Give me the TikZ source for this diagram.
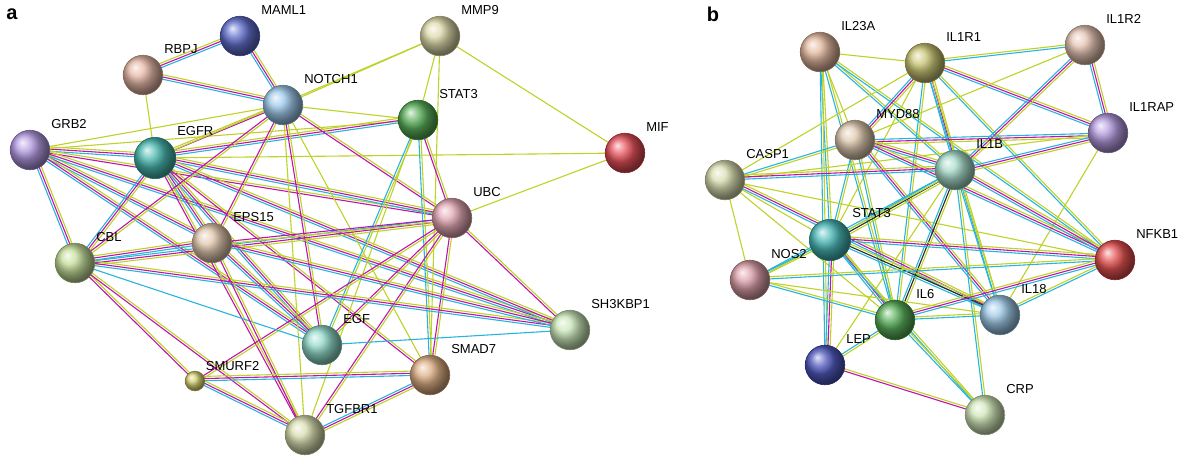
\documentclass[tikz,border=0pt]{standalone}
\usepackage{fontspec}
\setmainfont{Liberation Sans}
\usetikzlibrary{calc,backgrounds}
\definecolor{cc}{RGB}{40,180,220}
\definecolor{mm}{RGB}{190,20,170}
\definecolor{yy}{RGB}{190,210,40}
\definecolor{kk}{RGB}{40,40,40}
\tikzset{
 lab/.style={font=\fontsize{6.5}{7}\selectfont,anchor=south west,inner sep=0pt},
}
\newcommand\bl[6]{% name, x, y, r, RGB, label
 \definecolor{col#1}{RGB}{#5}
 \node[circle,minimum size=#4*0.9,inner sep=0pt,ball color=col#1!85!white,draw=col#1!60!black,line width=0.3pt] (#1) at (#2,#3) {};
 \node[lab] (l#1) at ($(#1)+(0.95*#4,-0.95*#4)$) {#6};}
\newcommand\ed[3]{%
 \foreach \c [count=\i] in {#3}{%
  \pgfmathsetmacro\off{(\i-1)*1.1}
  \draw[\c,line width=0.55pt] ($(#1)!\off pt!90:(#2)$) -- ($(#2)!\off pt!-90:(#1)$);}}
\begin{document}
\begin{tikzpicture}[x=0.5pt,y=-0.5pt]
\useasboundingbox (0,0) rectangle (1200,463);
\node[font=\bfseries\fontsize{10}{12}\selectfont] at (12,14) {a};
\node[font=\bfseries\fontsize{10}{12}\selectfont] at (713,14) {b};
% panel a
\bl{MAML1}{240}{36}{22}{70,85,195}{MAML1}
\bl{RBPJ}{143}{75}{22}{225,170,150}{RBPJ}
\bl{MMP9}{440}{36}{22}{215,210,155}{MMP9}
\bl{NOTCH1}{283}{105}{22}{140,190,230}{NOTCH1}
\bl{STATa}{418}{120}{22}{60,160,60}{STAT3}
\bl{MIF}{625}{153}{22}{225,50,60}{MIF}
\bl{GRB2}{30}{150}{22}{165,135,220}{GRB2}
\bl{EGFR}{155}{158}{23}{40,170,160}{EGFR}
\bl{UBC}{452}{218}{22}{220,150,165}{UBC}
\bl{CBL}{75}{263}{22}{185,215,135}{CBL}
\bl{EPS15}{212}{243}{22}{220,190,160}{EPS15}
\bl{SH3KBP1}{570}{330}{22}{190,225,170}{SH3KBP1}
\bl{EGF}{322}{345}{22}{125,210,190}{EGF}
\bl{SMURF2}{195}{381}{11}{205,200,90}{SMURF2}
\bl{SMAD7}{430}{375}{22}{215,160,110}{SMAD7}
\bl{TGFBR1}{305}{435}{22}{210,215,160}{TGFBR1}
% panel b
\bl{IL23A}{820}{52}{22}{220,170,140}{IL23A}
\bl{IL1R1}{925}{63}{22}{190,185,90}{IL1R1}
\bl{IL1R2}{1085}{45}{22}{225,185,165}{IL1R2}
\bl{IL1RAP}{1108}{133}{22}{165,135,215}{IL1RAP}
\bl{MYD88}{855}{140}{22}{215,190,160}{MYD88}
\bl{CASP1}{725}{180}{22}{210,215,160}{CASP1}
\bl{IL1B}{955}{170}{22}{150,210,190}{IL1B}
\bl{STATb}{830}{240}{23}{40,170,170}{STAT3}
\bl{NFKB1}{1115}{260}{22}{225,50,50}{NFKB1}
\bl{NOS2}{750}{280}{22}{210,140,150}{NOS2}
\bl{IL6}{895}{320}{22}{60,160,60}{IL6}
\bl{IL18}{1000}{315}{22}{140,190,225}{IL18}
\bl{LEP}{825}{365}{22}{50,60,180}{LEP}
\bl{CRP}{985}{415}{22}{200,225,170}{CRP}
\begin{scope}[on background layer]
% a edges
\ed{GRB2}{EGFR}{cc,mm,yy}\ed{GRB2}{CBL}{cc,mm,yy}\ed{GRB2}{EPS15}{cc,mm,yy}
\ed{GRB2}{UBC}{mm,yy}\ed{GRB2}{NOTCH1}{yy}\ed{GRB2}{STATa}{yy}
\ed{GRB2}{EGF}{cc,mm,yy}\ed{GRB2}{SH3KBP1}{cc,mm,yy}
\ed{EGFR}{NOTCH1}{mm,yy}\ed{EGFR}{STATa}{cc,mm,yy}\ed{EGFR}{UBC}{cc,mm,yy}
\ed{EGFR}{CBL}{cc,mm,yy}\ed{EGFR}{EPS15}{cc,mm,yy}\ed{EGFR}{EGF}{cc,mm,yy}
\ed{EGFR}{SH3KBP1}{cc,mm,yy}\ed{EGFR}{SMAD7}{mm,yy}\ed{EGFR}{TGFBR1}{mm,yy}
\ed{EGFR}{MIF}{yy}\ed{EGFR}{MMP9}{yy}\ed{EGFR}{RBPJ}{yy}
\ed{RBPJ}{NOTCH1}{cc,mm,yy}\ed{RBPJ}{MAML1}{cc,mm,yy}\ed{MAML1}{NOTCH1}{cc,mm,yy}
\ed{NOTCH1}{STATa}{yy}\ed{NOTCH1}{MMP9}{yy}\ed{NOTCH1}{UBC}{mm,yy}
\ed{NOTCH1}{EPS15}{mm,yy}\ed{NOTCH1}{CBL}{mm,yy}\ed{NOTCH1}{EGF}{mm,yy}
\ed{NOTCH1}{TGFBR1}{yy}\ed{NOTCH1}{SMAD7}{yy}
\ed{MMP9}{STATa}{yy}\ed{MMP9}{MIF}{yy}\ed{MMP9}{SMAD7}{yy}
\ed{STATa}{UBC}{mm,yy}\ed{STATa}{EGF}{cc,yy}\ed{STATa}{SMAD7}{cc,yy}
\ed{STATa}{TGFBR1}{yy}
\ed{UBC}{MIF}{yy}\ed{UBC}{CBL}{cc,mm,yy}\ed{UBC}{EPS15}{mm,yy}
\ed{UBC}{SH3KBP1}{mm,yy}\ed{UBC}{EGF}{mm,yy}\ed{UBC}{SMAD7}{mm,yy}
\ed{UBC}{TGFBR1}{mm,yy}\ed{UBC}{SMURF2}{mm,yy}
\ed{CBL}{EPS15}{cc,mm,yy}\ed{CBL}{EGF}{cc}\ed{CBL}{SH3KBP1}{cc,mm,yy}
\ed{CBL}{SMURF2}{mm,yy}\ed{CBL}{TGFBR1}{mm,yy}
\ed{EPS15}{EGF}{cc,mm,yy}\ed{EPS15}{SH3KBP1}{cc,mm,yy}\ed{EPS15}{TGFBR1}{mm,yy}
\ed{EGF}{SH3KBP1}{cc}\ed{SMURF2}{SMAD7}{cc,mm,yy}\ed{SMURF2}{TGFBR1}{cc,mm,yy}
\ed{SMAD7}{TGFBR1}{cc,mm,yy}
% b edges
\ed{IL23A}{IL1R1}{yy}\ed{IL23A}{STATb}{cc,yy}\ed{IL23A}{IL6}{cc,yy}\ed{IL23A}{IL1B}{cc,yy}
\ed{IL23A}{MYD88}{yy}\ed{IL23A}{NFKB1}{cc,yy}\ed{IL23A}{LEP}{cc,yy}
\ed{IL1R1}{IL1R2}{cc,yy}\ed{IL1R1}{IL1RAP}{cc,mm,yy}\ed{IL1R1}{MYD88}{cc,mm,yy}
\ed{IL1R1}{IL1B}{cc,mm,yy}\ed{IL1R1}{STATb}{yy}\ed{IL1R1}{IL6}{cc,yy}\ed{IL1R1}{NFKB1}{cc,yy}
\ed{IL1R1}{IL18}{cc,yy}\ed{IL1R1}{CASP1}{yy}
\ed{IL1R2}{IL1RAP}{cc,mm,yy}\ed{IL1R2}{IL1B}{cc,mm,yy}\ed{IL1R2}{MYD88}{yy}
\ed{IL1RAP}{MYD88}{cc,mm,yy}\ed{IL1RAP}{IL1B}{cc,mm,yy}\ed{IL1RAP}{CASP1}{yy}\ed{IL1RAP}{IL18}{yy}
\ed{MYD88}{IL1B}{cc,mm,yy}\ed{MYD88}{CASP1}{cc,yy}\ed{MYD88}{STATb}{cc,yy}\ed{MYD88}{NFKB1}{cc,mm,yy}
\ed{MYD88}{IL6}{cc,yy}\ed{MYD88}{IL18}{cc,mm,yy}
\ed{CASP1}{IL1B}{cc,mm,yy}\ed{CASP1}{IL18}{cc,mm,yy}\ed{CASP1}{STATb}{yy}\ed{CASP1}{IL6}{yy}
\ed{CASP1}{NFKB1}{yy}\ed{CASP1}{NOS2}{yy}
\ed{IL1B}{STATb}{cc,kk,yy}\ed{IL1B}{IL6}{cc,kk,yy}\ed{IL1B}{NFKB1}{cc,mm,yy}\ed{IL1B}{NOS2}{cc,yy}
\ed{IL1B}{IL18}{cc,yy}\ed{IL1B}{LEP}{yy}\ed{IL1B}{CRP}{cc,yy}
\ed{STATb}{NOS2}{cc,yy}\ed{STATb}{IL6}{cc,mm,yy}\ed{STATb}{NFKB1}{cc,mm,yy}\ed{STATb}{IL18}{cc,kk,yy}
\ed{STATb}{LEP}{cc,mm,yy}\ed{STATb}{CRP}{cc,yy}
\ed{NOS2}{IL6}{cc,yy}\ed{NOS2}{NFKB1}{cc,yy}\ed{NOS2}{IL18}{yy}
\ed{IL6}{NFKB1}{cc,mm,yy}\ed{IL6}{IL18}{cc,yy}\ed{IL6}{LEP}{cc,yy}\ed{IL6}{CRP}{cc,yy}
\ed{IL18}{NFKB1}{cc,yy}\ed{LEP}{CRP}{mm,yy}
\end{scope}
\end{tikzpicture}
\end{document}
